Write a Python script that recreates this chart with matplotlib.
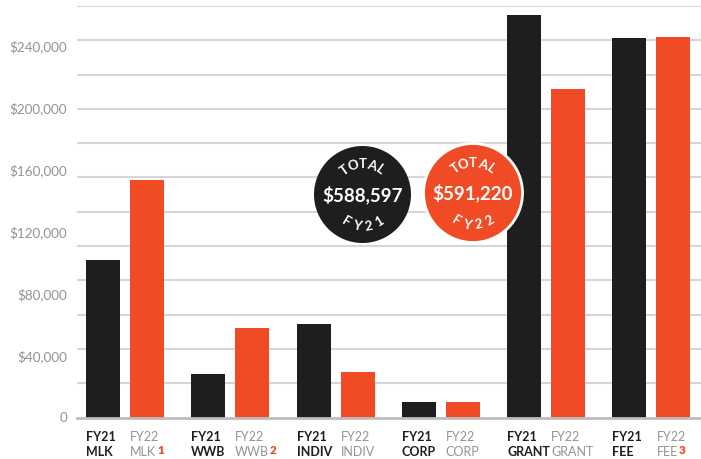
import matplotlib
matplotlib.use('Agg')
import matplotlib.pyplot as plt
from matplotlib.patches import Circle
import numpy as np

categories = ['MLK', 'WWB', 'INDIV', 'CORP', 'GRANT', 'FEE']
fy21 = [101700, 28000, 60400, 10000, 260100, 245300]
fy22 = [153500, 57800, 29300, 10000, 212300, 245900]
notes = ['1', '2', '', '', '', '3']
yticks = [0, 40000, 80000, 120000, 160000, 200000, 240000]
total21 = '$588,597'
total22 = '$591,220'

BLACK = '#1f1e1f'
RED = '#f04b24'
GRAY = '#939393'

plt.rcParams['font.family'] = ['Lato', 'DejaVu Sans']

fig = plt.figure(figsize=(7.01, 4.59), dpi=100)
ax = fig.add_axes([77/701, 41.5/459, 624/701, 411.5/459])
x = np.arange(len(categories))
w = 0.323
off = 0.418
ax.bar(x, fy21, w, color=BLACK, zorder=3)
ax.bar(x + off, fy22, w, color=RED, zorder=3)
ax.set_xlim(-0.247, 5.68)
ymax = 266000
ax.set_ylim(0, ymax)
ax.set_yticks(yticks)
ax.set_yticklabels(['0' if v == 0 else f'${v:,}' for v in yticks])
ax.set_yticks(np.linspace(0, ymax, 13), minor=True)
ax.yaxis.grid(True, which='minor', color='#d6d6d6', lw=1.5, zorder=0)
ax.set_axisbelow(True)
ax.tick_params(axis='y', which='both', length=0, labelsize=9.7, labelcolor=GRAY, pad=7)
ax.set_xticks([])
for s in ax.spines.values():
    s.set_visible(False)
ax.axhline(0, color='#bdbdbd', lw=2, zorder=4, clip_on=False)

for i, cat in enumerate(categories):
    x21 = x[i] - w/2
    x22 = x[i] + off - w/2
    for xx, color, weight in ((x21, BLACK, 'bold'), (x22, GRAY, 'normal')):
        ax.annotate('FY21' if color == BLACK else 'FY22', xy=(xx, 0),
                    xycoords=('data', 'axes fraction'), xytext=(0, -14),
                    textcoords='offset points', ha='left', va='center',
                    fontsize=9, fontweight=weight, color=color, annotation_clip=False)
        t = ax.annotate(cat, xy=(xx, 0), xycoords=('data', 'axes fraction'),
                        xytext=(0, -24.8), textcoords='offset points', ha='left',
                        va='center', fontsize=9, fontweight=weight, color=color,
                        annotation_clip=False)
        if color == GRAY and notes[i]:
            ax.annotate(notes[i], xy=(1, 0.5), xycoords=t, xytext=(0.6, 1.2),
                        textcoords='offset points', ha='left', va='center',
                        fontsize=8.5, fontweight='heavy', color=RED, annotation_clip=False)

ov = fig.add_axes([0, 0, 1, 1], zorder=5)
ov.set_xlim(0, 701)
ov.set_ylim(459, 0)
ov.axis('off')


def arc_text(cx, cy, s, r, step, top=True, **kw):
    n = len(s)
    angles = (np.arange(n) - (n - 1) / 2) * step
    for ch, a in zip(s, angles):
        th = np.radians(a)
        px = cx + r * np.sin(th)
        if top:
            py = cy - r * np.cos(th)
            rot = -a
        else:
            py = cy + r * np.cos(th)
            rot = a
        ov.text(px, py, ch, rotation=rot, ha='center', va='center',
                rotation_mode='anchor', **kw)


for cx, cy, fc, ec, total, fy in ((362.5, 194.5, BLACK, 'none', total21, 'FY21'),
                                  (473, 193, RED, 'white', total22, 'FY22')):
    ov.add_patch(Circle((cx, cy), 49.5 if ec == 'white' else 48.5, facecolor=fc,
                        edgecolor=ec, lw=2))
    arc_text(cx, cy, 'TOTAL', 30, 18, top=True, color='white', fontsize=9.5,
             fontweight='bold')
    arc_text(cx, cy, fy, 32, 21, top=False, color='white', fontsize=9.5,
             fontweight='bold')
    ov.text(cx, cy, total, ha='center', va='center', color='white', fontsize=13.5,
            fontweight='bold')

fig.savefig('out.png', dpi=100)
